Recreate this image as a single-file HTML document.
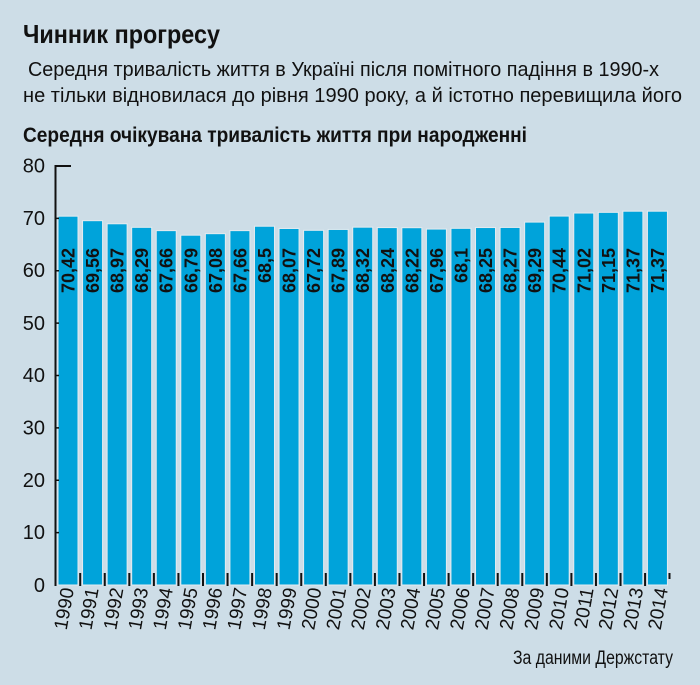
<!DOCTYPE html>
<html><head><meta charset="utf-8"><style>
html,body{margin:0;padding:0;background:#cddde7;}
svg{display:block;}
text{font-family:"Liberation Sans","DejaVu Sans",sans-serif;fill:#111;}
</style></head><body>
<svg width="700" height="685" viewBox="0 0 700 685" xmlns="http://www.w3.org/2000/svg">
<rect width="700" height="685" fill="#cddde7"/>
<text x="23" y="43" font-size="26" font-weight="bold" textLength="197" lengthAdjust="spacingAndGlyphs">Чинник прогресу</text>
<text x="28" y="76" font-size="20" textLength="631" lengthAdjust="spacingAndGlyphs">Середня тривалість життя в Україні після помітного падіння в 1990-х</text>
<text x="23" y="102" font-size="20" textLength="659" lengthAdjust="spacingAndGlyphs">не тільки відновилася до рівня 1990 року, а й істотно перевищила його</text>
<text x="23" y="142" font-size="21" font-weight="bold" textLength="504" lengthAdjust="spacingAndGlyphs">Середня очікувана тривалість життя при народженні</text>
<g font-size="20" text-anchor="end">
<text x="45" y="172.5">80</text>
<text x="45" y="225">70</text>
<text x="45" y="277">60</text>
<text x="45" y="330">50</text>
<text x="45" y="382">40</text>
<text x="45" y="434.5">30</text>
<text x="45" y="487">20</text>
<text x="45" y="539">10</text>
<text x="45" y="592">0</text>
</g>
<g fill="#00a3da" stroke="#e3ebf0" stroke-width="1">
<rect x="58.00" y="216.18" width="20" height="368.82"/>
<rect x="82.56" y="220.68" width="20" height="364.32"/>
<rect x="107.12" y="223.77" width="20" height="361.23"/>
<rect x="131.68" y="227.33" width="20" height="357.67"/>
<rect x="156.24" y="230.63" width="20" height="354.37"/>
<rect x="180.80" y="235.19" width="20" height="349.81"/>
<rect x="205.36" y="233.67" width="20" height="351.33"/>
<rect x="229.92" y="230.63" width="20" height="354.37"/>
<rect x="254.48" y="226.23" width="20" height="358.77"/>
<rect x="279.04" y="228.48" width="20" height="356.52"/>
<rect x="303.60" y="230.32" width="20" height="354.68"/>
<rect x="328.16" y="229.43" width="20" height="355.57"/>
<rect x="352.72" y="227.17" width="20" height="357.83"/>
<rect x="377.28" y="227.59" width="20" height="357.41"/>
<rect x="401.84" y="227.70" width="20" height="357.30"/>
<rect x="426.40" y="229.06" width="20" height="355.94"/>
<rect x="450.96" y="228.33" width="20" height="356.67"/>
<rect x="475.52" y="227.54" width="20" height="357.46"/>
<rect x="500.08" y="227.44" width="20" height="357.56"/>
<rect x="524.64" y="222.09" width="20" height="362.91"/>
<rect x="549.20" y="216.07" width="20" height="368.93"/>
<rect x="573.76" y="213.03" width="20" height="371.97"/>
<rect x="598.32" y="212.35" width="20" height="372.65"/>
<rect x="622.88" y="211.20" width="20" height="373.80"/>
<rect x="647.44" y="211.20" width="20" height="373.80"/>
</g>
<g font-size="18" font-weight="bold" text-anchor="end">
<text transform="translate(74.5,248) rotate(-90)">70,42</text>
<text transform="translate(99.06,248) rotate(-90)">69,56</text>
<text transform="translate(123.62,248) rotate(-90)">68,97</text>
<text transform="translate(148.18,248) rotate(-90)">68,29</text>
<text transform="translate(172.74,248) rotate(-90)">67,66</text>
<text transform="translate(197.30,248) rotate(-90)">66,79</text>
<text transform="translate(221.86,248) rotate(-90)">67,08</text>
<text transform="translate(246.42,248) rotate(-90)">67,66</text>
<text transform="translate(270.98,248) rotate(-90)">68,5</text>
<text transform="translate(295.54,248) rotate(-90)">68,07</text>
<text transform="translate(320.10,248) rotate(-90)">67,72</text>
<text transform="translate(344.66,248) rotate(-90)">67,89</text>
<text transform="translate(369.22,248) rotate(-90)">68,32</text>
<text transform="translate(393.78,248) rotate(-90)">68,24</text>
<text transform="translate(418.34,248) rotate(-90)">68,22</text>
<text transform="translate(442.90,248) rotate(-90)">67,96</text>
<text transform="translate(467.46,248) rotate(-90)">68,1</text>
<text transform="translate(492.02,248) rotate(-90)">68,25</text>
<text transform="translate(516.58,248) rotate(-90)">68,27</text>
<text transform="translate(541.14,248) rotate(-90)">69,29</text>
<text transform="translate(565.70,248) rotate(-90)">70,44</text>
<text transform="translate(590.26,248) rotate(-90)">71,02</text>
<text transform="translate(614.82,248) rotate(-90)">71,15</text>
<text transform="translate(639.38,248) rotate(-90)">71,37</text>
<text transform="translate(663.94,248) rotate(-90)">71,37</text>
</g>
<g font-size="19" text-anchor="end">
<text transform="translate(74,589) rotate(-80)">1990</text>
<text transform="translate(98.75,589) rotate(-80)">1991</text>
<text transform="translate(123.5,589) rotate(-80)">1992</text>
<text transform="translate(148.25,589) rotate(-80)">1993</text>
<text transform="translate(173,589) rotate(-80)">1994</text>
<text transform="translate(197.75,589) rotate(-80)">1995</text>
<text transform="translate(222.5,589) rotate(-80)">1996</text>
<text transform="translate(247.25,589) rotate(-80)">1997</text>
<text transform="translate(272,589) rotate(-80)">1998</text>
<text transform="translate(296.75,589) rotate(-80)">1999</text>
<text transform="translate(321.5,589) rotate(-80)">2000</text>
<text transform="translate(346.25,589) rotate(-80)">2001</text>
<text transform="translate(371,589) rotate(-80)">2002</text>
<text transform="translate(395.75,589) rotate(-80)">2003</text>
<text transform="translate(420.5,589) rotate(-80)">2004</text>
<text transform="translate(445.25,589) rotate(-80)">2005</text>
<text transform="translate(470,589) rotate(-80)">2006</text>
<text transform="translate(494.75,589) rotate(-80)">2007</text>
<text transform="translate(519.5,589) rotate(-80)">2008</text>
<text transform="translate(544.25,589) rotate(-80)">2009</text>
<text transform="translate(569,589) rotate(-80)">2010</text>
<text transform="translate(593.75,589) rotate(-80)">2011</text>
<text transform="translate(618.5,589) rotate(-80)">2012</text>
<text transform="translate(643.25,589) rotate(-80)">2013</text>
<text transform="translate(668,589) rotate(-80)">2014</text>
</g>
<path d="M80.2 573V586M104.76 573V586M129.32 573V586M153.88 573V586M178.44 573V586M203 573V586M227.56 573V586M252.12 573V586M276.68 573V586M301.24 573V586M325.8 573V586M350.36 573V586M374.92 573V586M399.48 573V586M424.04 573V586M448.6 573V586M473.16 573V586M497.72 573V586M522.28 573V586M546.84 573V586M571.4 573V586M595.96 573V586M620.52 573V586M645.08 573V586M669.5 573V579" stroke="#111" stroke-width="2" fill="none"/>
<path d="M56 532.6H59M56 480.25H59M56 427.9H59M56 375.5H59M56 323.1H59M56 270.75H59M56 218.4H59" stroke="#111" stroke-width="1.5" fill="none"/>
<line x1="55.5" y1="165" x2="55.5" y2="586" stroke="#111" stroke-width="2"/>
<line x1="55" y1="166" x2="71" y2="166" stroke="#111" stroke-width="2"/>
<text x="673" y="664" font-size="19" text-anchor="end" textLength="160" lengthAdjust="spacingAndGlyphs">За даними Держстату</text>
</svg>
</body></html>
